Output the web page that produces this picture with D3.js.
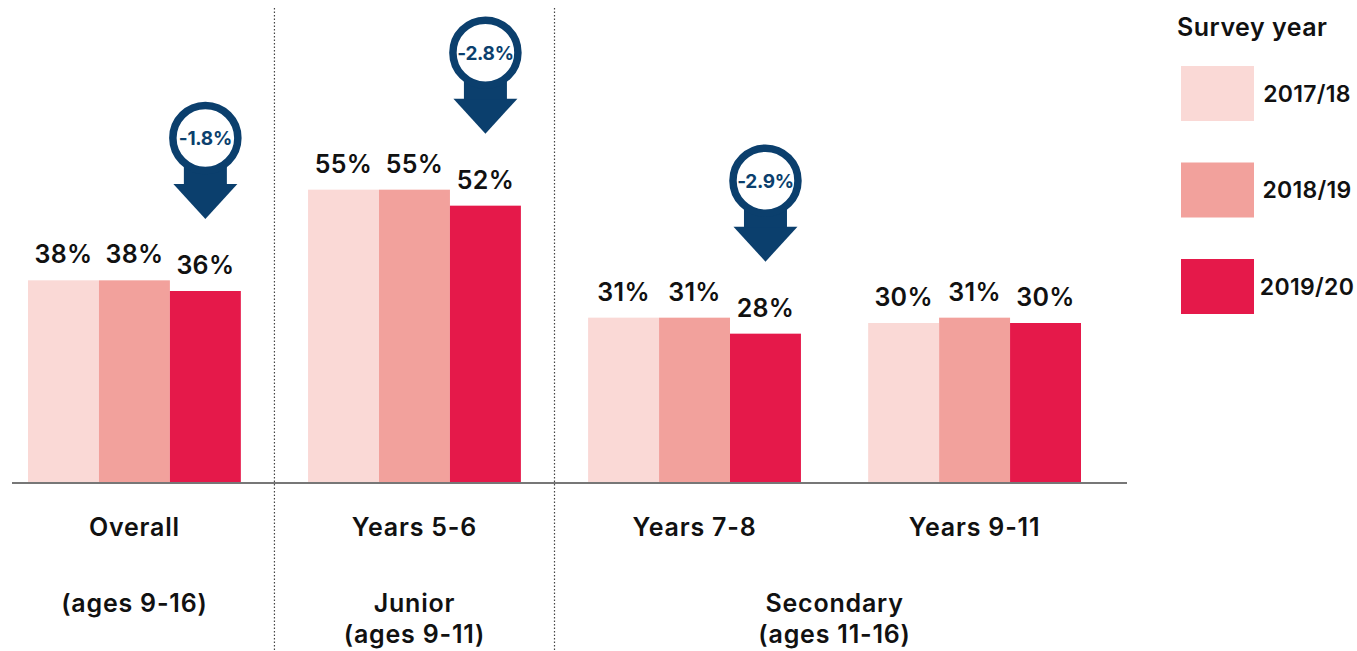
<!DOCTYPE html>
<html lang="en">
<head>
    <meta charset="UTF-8">
    <title>Survey year bar chart</title>
    <style>
        body {
            margin: 0;
            background: #fff;
            font-family: Inter, "Open Sans", sans-serif;
        }
        text {
            fill: #111;
            font-weight: 600;
        }
    </style>
</head>
<body>
    <script src="https://d3js.org/d3.v7.min.js"></script>
    <script>
        // categories along the axis and the survey years (series)
        const categories = ["Overall", "Years 5-6", "Years 7-8", "Years 9-11"];
        const years = ["2017/18", "2018/19", "2019/20"];

        // percentages per year, one value per category
        const values1718 = [38, 55, 31, 30];
        const values1819 = [38, 55, 31, 31];
        const values1920 = [36, 52, 28, 30];

        // change callouts (2019/20 vs previous), null = no callout
        const changes = ["-1.8%", "-2.8%", "-2.9%", null];

        // school phase sections under the axis
        const sectionCats = [["Overall"], ["Years 5-6"], ["Years 7-8", "Years 9-11"]];
        const sectionLabels = [["(ages 9-16)"], ["Junior", "(ages 9-11)"], ["Secondary", "(ages 11-16)"]];

        const colors = ["#fad9d6", "#f2a19c", "#e5194a"];
        const navy = "#0b3f6d";

        const width = 1357;
        const height = 651;
        const baseline = 483;

        const series = [values1718, values1819, values1920];
        const rows = categories.map((c, i) => ({
            category: c,
            values: years.map((y, j) => ({ year: y, value: series[j][i] })),
            change: changes[i]
        }));

        const x = d3.scaleBand()
            .domain(categories)
            .range([28, 1081])
            .paddingInner(0.24);

        const xInner = d3.scaleBand()
            .domain(years)
            .range([0, x.bandwidth()]);

        const y = d3.scaleLinear()
            .domain([0, 60])
            .range([baseline, baseline - 320]);

        const color = d3.scaleOrdinal(years, colors);

        const svg = d3.select("body").append("svg")
            .attr("width", width)
            .attr("height", height);

        // dotted separators between sections
        const separators = sectionCats.slice(0, -1).map(s => {
            const last = s[s.length - 1];
            const right = x(last) + x.bandwidth();
            return right + (x.step() - x.bandwidth()) / 2;
        });

        svg.selectAll(".sep")
            .data(separators)
            .enter().append("line")
            .attr("class", "sep")
            .attr("x1", d => d).attr("x2", d => d)
            .attr("y1", 8).attr("y2", height)
            .attr("stroke", "#444")
            .attr("stroke-width", 1.2)
            .attr("stroke-dasharray", "1.5,2");

        // bars
        const group = svg.selectAll(".group")
            .data(rows)
            .enter().append("g")
            .attr("class", "group")
            .attr("transform", d => `translate(${x(d.category)},0)`);

        group.selectAll("rect")
            .data(d => d.values)
            .enter().append("rect")
            .attr("x", d => xInner(d.year))
            .attr("y", d => y(d.value))
            .attr("width", xInner.bandwidth())
            .attr("height", d => y(0) - y(d.value))
            .attr("fill", d => color(d.year));

        group.selectAll(".val")
            .data(d => d.values)
            .enter().append("text")
            .attr("class", "val")
            .attr("x", d => xInner(d.year) + xInner.bandwidth() / 2)
            .attr("y", d => y(d.value) - 17)
            .attr("text-anchor", "middle")
            .style("font-size", "25px")
            .style("letter-spacing", "0.3px")
            .text(d => d.value + "%");

        // axis line
        svg.append("line")
            .attr("x1", x.range()[0] - 16)
            .attr("x2", x.range()[1] + 46)
            .attr("y1", baseline).attr("y2", baseline)
            .attr("stroke", "#777")
            .attr("stroke-width", 2);

        // category labels
        svg.selectAll(".cat")
            .data(categories)
            .enter().append("text")
            .attr("class", "cat")
            .attr("x", d => x(d) + x.bandwidth() / 2)
            .attr("y", 536)
            .attr("text-anchor", "middle")
            .style("font-size", "25px")
            .style("letter-spacing", "0.8px")
            .text(d => d);

        // section labels
        sectionCats.forEach((cats, i) => {
            const left = x(cats[0]);
            const right = x(cats[cats.length - 1]) + x.bandwidth();
            const t = svg.append("text")
                .attr("x", (left + right) / 2)
                .attr("y", 612)
                .attr("text-anchor", "middle")
                .style("font-size", "25px")
                .style("letter-spacing", "0.8px");
            sectionLabels[i].forEach((line, k) => {
                t.append("tspan")
                    .attr("x", (left + right) / 2)
                    .attr("dy", k === 0 ? 0 : 31)
                    .text(line);
            });
        });

        // change callouts
        const callouts = rows.filter(d => d.change);
        const callout = svg.selectAll(".callout")
            .data(callouts)
            .enter().append("g")
            .attr("class", "callout")
            .attr("transform", d => {
                const last = d.values[d.values.length - 1];
                const cx = x(d.category) + xInner(last.year) + xInner.bandwidth() / 2;
                return `translate(${cx},${y(last.value) - 72})`;
            });

        callout.append("path")
            .attr("d", "M-32,-35 L32,-35 L0,0 Z")
            .attr("fill", navy);

        callout.append("rect")
            .attr("x", -21.5).attr("y", -81)
            .attr("width", 43).attr("height", 47)
            .attr("fill", navy);

        callout.append("circle")
            .attr("cx", 0).attr("cy", -81)
            .attr("r", 32.5)
            .attr("fill", "#fff")
            .attr("stroke", navy)
            .attr("stroke-width", 7.5);

        callout.append("text")
            .attr("x", 0).attr("y", -81)
            .attr("dy", "0.36em")
            .attr("text-anchor", "middle")
            .style("font-size", "19px")
            .style("font-weight", 700)
            .style("letter-spacing", "-0.3px")
            .style("fill", navy)
            .text(d => d.change);

        // legend
        const legend = svg.append("g")
            .attr("transform", "translate(1181,0)");

        legend.append("text")
            .attr("x", -4).attr("y", 36)
            .style("font-size", "25px")
            .style("letter-spacing", "0.5px")
            .text("Survey year");

        const item = legend.selectAll(".item")
            .data(years)
            .enter().append("g")
            .attr("class", "item")
            .attr("transform", (d, i) => `translate(0,${66 + i * 96.5})`);

        item.append("rect")
            .attr("width", 73).attr("height", 55)
            .attr("fill", d => color(d));

        item.append("text")
            .attr("x", 126).attr("y", 27.5)
            .attr("dy", "0.35em")
            .attr("text-anchor", "middle")
            .style("font-size", "23px")
            .style("letter-spacing", "0.3px")
            .text(d => d);
    </script>
</body>
</html>
